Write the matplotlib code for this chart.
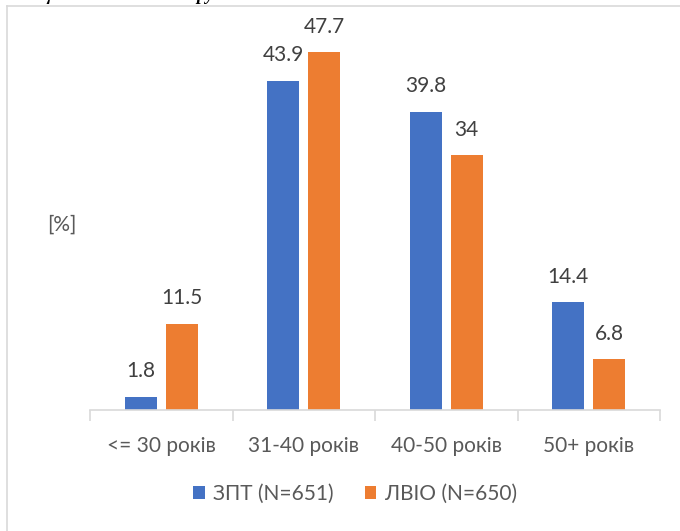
import matplotlib
matplotlib.use("Agg")
import matplotlib.pyplot as plt
from matplotlib.lines import Line2D
import numpy as np

categories = ["<= 30 років", "31-40 років", "40-50 років", "50+ років"]
series_names = ["ЗПТ (N=651)", "ЛВІО (N=650)"]
zpt = [1.8, 43.9, 39.8, 14.4]
lvio = [11.5, 47.7, 34, 6.8]
zpt_labels = ["1.8", "43.9", "39.8", "14.4"]
lvio_labels = ["11.5", "47.7", "34", "6.8"]

BLUE = "#4472C4"
ORANGE = "#ED7D31"
FONT = ["Lato", "DejaVu Sans"]
plt.rcParams["font.family"] = FONT

W, H = 680, 531
fig = plt.figure(figsize=(W / 100, H / 100), dpi=100)

def fx(px):
    return px / W

def fy(py):
    return 1 - py / H

# chart frame (partly outside the picture)
fig.add_artist(Line2D([fx(7), fx(7)], [fy(6), fy(540)], color="#D9D9D9", lw=1.2))
fig.add_artist(Line2D([fx(7), fx(700)], [fy(6), fy(6)], color="#D9D9D9", lw=1.2))

# clipped caption from surrounding document
fig.text(fx(22), fy(0.5), "пацієнтів за віковою групою", fontsize=13, fontweight="bold",
         fontstyle="italic", color="black", va="baseline", ha="left",
         family=["Liberation Serif", "DejaVu Serif"])

ymax = 50.0
ax_bottom, ax_top = 410, 410 - ymax * 7.5
ax = fig.add_axes([fx(90), fy(ax_bottom), fx(660) - fx(90), fy(ax_top) - fy(ax_bottom)])

x = np.arange(len(categories))
bw = 0.224
off = 0.143
b1 = ax.bar(x - off, zpt, bw, color=BLUE, label=series_names[0])
b2 = ax.bar(x + off, lvio, bw, color=ORANGE, label=series_names[1])

for rect, lab in zip(b1, zpt_labels):
    ax.annotate(lab, (rect.get_x() + rect.get_width() / 2, rect.get_height()),
                xytext=(0, 11), textcoords="offset points", ha="center", va="bottom",
                fontsize=15, color="#404040")
for rect, lab in zip(b2, lvio_labels):
    ax.annotate(lab, (rect.get_x() + rect.get_width() / 2, rect.get_height()),
                xytext=(0, 11), textcoords="offset points", ha="center", va="bottom",
                fontsize=15, color="#404040")

ax.set_xlim(-0.5, len(categories) - 0.5)
ax.set_ylim(0, ymax)
ax.set_yticks([])
for s in ["top", "right", "left"]:
    ax.spines[s].set_visible(False)
ax.spines["bottom"].set_color("#D9D9D9")
ax.spines["bottom"].set_linewidth(1.2)
ax.set_xticks(np.arange(len(categories) + 1) - 0.5, minor=False)
ax.set_xticklabels([""] * (len(categories) + 1))
ax.tick_params(axis="x", which="major", length=8, width=1.2, color="#D9D9D9")
ax.set_xticks(x, minor=True)
ax.set_xticklabels(categories, minor=True)
ax.tick_params(axis="x", which="minor", length=0, pad=19, labelsize=15, labelcolor="#595959")

fig.text(fx(62), fy(225), "[%]", fontsize=15, color="#595959", ha="center", va="center")

fig.legend(handles=[b1, b2], labels=series_names, loc="center",
           bbox_to_anchor=(fx(355), fy(494)), ncol=2, frameon=False,
           fontsize=15, labelcolor="#595959", handlelength=0.55, handleheight=0.55,
           handletextpad=0.4, columnspacing=1.5)

fig.savefig("out.png", dpi=100)
